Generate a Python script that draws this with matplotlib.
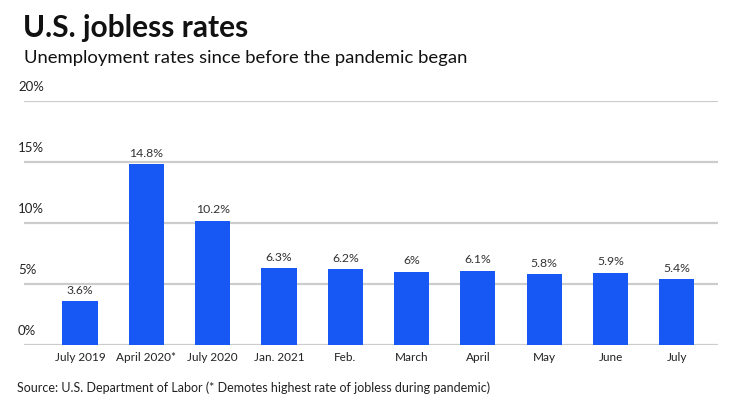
import matplotlib
matplotlib.use("Agg")
import matplotlib.pyplot as plt
from matplotlib.transforms import blended_transform_factory

categories = ["July 2019", "April 2020*", "July 2020", "Jan. 2021", "Feb.", "March",
              "April", "May", "June", "July"]
rates = [3.6, 14.8, 10.2, 6.3, 6.2, 6.0, 6.1, 5.8, 5.9, 5.4]
bar_labels = ["3.6%", "14.8%", "10.2%", "6.3%", "6.2%", "6%", "6.1%", "5.8%", "5.9%", "5.4%"]
yticks = [0, 5, 10, 15, 20]
ytick_labels = ["0%", "5%", "10%", "15%", "20%"]

plt.rcParams['font.family'] = ['Lato', 'DejaVu Sans']

fig = plt.figure(figsize=(7.4, 4.16), dpi=100)
ax = fig.add_axes([24/740, 1-345/416, (718-24)/740, (345-101)/416])

x = list(range(len(categories)))
ax.bar(x, rates, width=0.53, color="#1758F5", zorder=3)
for xi, v, lab in zip(x, rates, bar_labels):
    ax.annotate(lab, (xi, v), xytext=(0, 4), textcoords="offset points",
                ha="center", va="bottom", fontsize=8.8, color="#333333")

ax.set_xlim(-0.844, 9.62)
ax.set_ylim(0, 20)
ax.set_yticks(yticks)
ax.set_yticklabels([])
for t in yticks:
    ax.axhline(t, color="#cccccc", lw=1.6, zorder=1)
trans = blended_transform_factory(fig.transFigure, ax.transData)
for t, lab in zip(yticks, ytick_labels):
    ax.annotate(lab, (18/740, t), xycoords=trans, xytext=(0, 6), textcoords="offset points",
                ha="left", va="bottom", fontsize=9.5, color="#222222")

ax.set_xticks(x)
ax.set_xticklabels(categories, fontsize=8.5, color="#222222")
ax.tick_params(axis="both", length=0, pad=5)
for s in ax.spines.values():
    s.set_visible(False)

fig.text(23/740, 1-14/416, "U.S. jobless rates", fontsize=21.5, fontweight="bold",
         ha="left", va="top", color="#111111")
fig.text(24/740, 1-50/416, "Unemployment rates since before the pandemic began", fontsize=13.3,
         ha="left", va="top", color="#111111")
fig.text(17/740, 1-388/416, "Source: U.S. Department of Labor (* Demotes highest rate of jobless during pandemic)",
         fontsize=9, ha="left", va="center", color="#222222")

fig.savefig("out.png", dpi=100, facecolor="white")
